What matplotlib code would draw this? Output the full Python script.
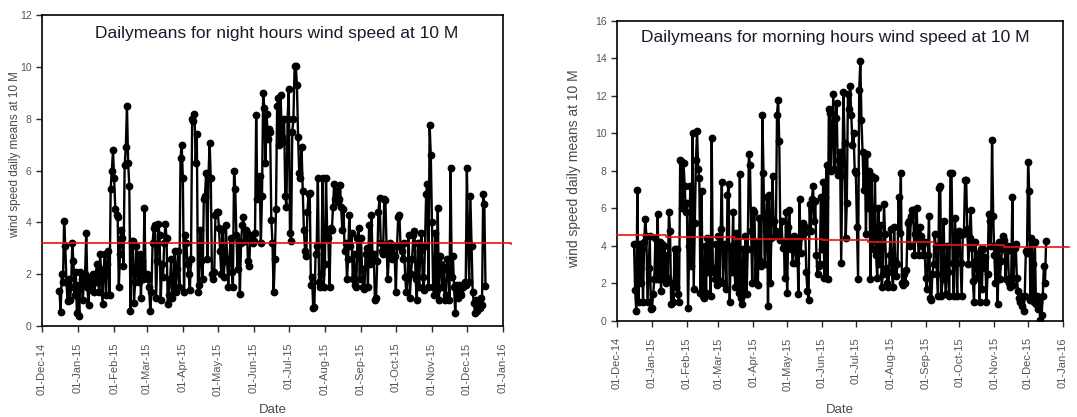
import numpy as np
import pandas as pd
import matplotlib
matplotlib.use('Agg')
import matplotlib.pyplot as plt
import matplotlib.dates as mdates

plt.rcParams['font.family'] = ['Liberation Sans', 'DejaVu Sans']

# daily means, night hours (16-Dec-2014 .. 17-Dec-2015), read by eye
night_dec14 = [1.35, 0.55, 2.0, 1.7, 4.05, 3.1, 1.7, 0.95, 1.8, 1.0, 1.5, 3.2, 2.5, 1.2, 2.1, 0.5]
night_jan = [1.6, 0.4, 2.1, 1.8, 1.0, 1.7, 2.0, 3.6, 1.5, 0.8, 1.9, 1.7, 1.4, 2.0, 1.3,
             1.7, 2.4, 2.1, 1.3, 2.8, 1.8, 0.85, 2.2, 2.8, 1.2, 2.4, 2.9, 1.2, 5.3, 6.0, 6.8]
night_feb = [5.7, 4.5, 4.3, 4.2, 1.5, 2.8, 3.7, 3.4, 2.3, 6.2, 6.9, 8.5, 6.3, 5.4, 0.6,
             3.3, 3.3, 0.9, 1.7, 3.1, 2.0, 1.7, 2.8, 1.1, 2.5, 1.8, 4.55, 1.9]
night_mar = [2.0, 1.8, 1.5, 0.6, 1.3, 3.2, 3.8, 3.9, 1.1, 2.5, 3.95, 3.5, 1.0, 2.4, 1.9,
             3.2, 3.95, 3.4, 0.85, 1.2, 1.8, 2.6, 1.1, 1.5, 2.9, 1.3, 2.2, 2.9, 1.5, 6.5, 7.0]
night_apr = [5.7, 1.3, 3.5, 3.2, 2.4, 2.0, 1.4, 2.6, 8.0, 7.9, 8.2, 6.3, 7.4, 1.3, 1.6,
             3.7, 2.5, 1.8, 4.9, 5.0, 5.9, 2.6, 5.8, 7.05, 5.7, 2.0, 1.8, 2.1, 4.3, 4.4]
night_may = [4.4, 3.8, 2.9, 2.0, 3.7, 1.9, 2.5, 3.9, 2.6, 1.5, 2.6, 3.4, 2.1, 1.5, 6.0,
             5.3, 3.5, 2.2, 3.3, 1.25, 3.2, 3.9, 4.2, 3.3, 3.7, 3.6, 2.5, 2.3, 3.5, 3.4, 3.2]
night_jun = [3.3, 3.6, 8.15, 4.9, 5.0, 5.8, 3.2, 5.0, 9.0, 8.4, 6.3, 8.2, 7.2, 7.6, 7.5,
             4.1, 3.2, 1.3, 2.6, 4.5, 8.5, 8.8, 7.0, 8.9, 7.3, 7.1, 8.0, 5.0, 4.6, 8.0]
night_jul = [9.15, 3.6, 3.3, 7.5, 8.0, 10.05, 10.05, 9.3, 7.3, 5.9, 5.7, 6.9, 5.2, 3.7, 2.9,
             2.7, 4.4, 5.1, 5.15, 1.6, 1.9, 0.7, 0.75, 2.8, 3.1, 5.7, 1.7, 1.5, 2.0, 5.7, 1.5]
night_aug = [2.4, 5.7, 3.6, 3.4, 1.5, 3.8, 3.7, 4.6, 5.5, 4.9, 5.2, 4.8, 4.9, 5.45, 4.6,
             3.7, 4.5, 2.9, 3.2, 1.8, 2.6, 4.3, 3.1, 3.6, 1.8, 2.8, 1.6, 1.5, 3.4, 3.8, 1.8]
night_sep = [3.4, 2.2, 1.5, 1.45, 2.8, 3.0, 1.5, 3.9, 2.4, 4.3, 2.6, 2.8, 1.0, 1.1, 2.5,
             4.4, 4.95, 3.2, 2.9, 2.8, 4.9, 4.85, 3.1, 1.8, 2.7, 3.2, 2.9, 2.6, 3.1, 2.7]
night_oct = [1.3, 3.1, 4.2, 4.3, 3.1, 2.9, 2.6, 3.2, 1.9, 1.3, 1.9, 3.5, 1.1, 2.0, 2.6,
             3.5, 3.65, 1.8, 1.0, 3.2, 1.5, 2.9, 3.6, 1.9, 1.4, 3.1, 5.1, 5.5, 1.5, 7.75, 6.6]
night_nov = [4.0, 1.5, 1.2, 3.6, 1.4, 4.55, 1.0, 2.7, 2.4, 1.5, 2.2, 1.0, 1.2, 2.6, 2.3,
             1.0, 6.1, 1.9, 2.7, 1.5, 0.5, 1.6, 1.1, 1.6, 1.3, 1.2, 1.6, 1.5, 1.7, 1.6]
night_dec15 = [6.1, 3.3, 1.7, 5.0, 3.1, 1.3, 0.9, 0.5, 1.0, 0.6, 0.9, 0.7, 1.1, 0.8, 5.1, 4.7, 1.55]

# daily means, morning hours
morn_dec14 = [4.1, 1.65, 0.5, 7.0, 1.0, 4.1, 2.0, 3.8, 1.0, 4.2, 5.4, 4.5, 1.0, 2.8, 4.5, 0.6]
morn_jan = [0.7, 1.4, 2.2, 4.4, 2.2, 5.7, 2.2, 4.2, 1.6, 4.1, 2.2, 4.0, 2.0, 3.5, 2.3,
            5.8, 4.8, 0.9, 2.0, 1.0, 3.8, 1.8, 3.8, 1.4, 1.0, 8.6, 8.5, 6.0, 8.4, 7.2, 5.8]
morn_feb = [6.3, 0.7, 4.0, 7.2, 2.9, 10.0, 1.7, 5.2, 8.6, 10.1, 8.1, 7.6, 1.5, 6.9, 1.3,
            1.2, 4.0, 1.5, 4.4, 2.6, 4.2, 1.3, 9.75, 2.6, 2.8, 2.2, 4.1, 1.9]
morn_mar = [4.5, 2.1, 4.9, 7.4, 2.0, 4.0, 4.1, 1.7, 6.7, 7.3, 1.0, 4.0, 2.6, 5.8, 3.0,
            1.8, 4.7, 2.5, 1.5, 7.85, 1.2, 0.9, 3.8, 1.4, 4.5, 1.4, 3.8, 8.9, 8.3, 4.8, 2.0]
morn_apr = [5.9, 5.8, 2.0, 4.2, 1.9, 5.5, 3.2, 2.9, 11.0, 7.9, 3.0, 4.8, 6.6, 0.8, 6.7,
            2.0, 4.4, 7.7, 5.3, 4.5, 4.8, 11.0, 11.8, 9.6, 4.3, 5.3, 3.9, 4.2, 2.3, 5.8]
morn_may = [1.5, 5.0, 5.9, 3.8, 4.2, 3.1, 4.5, 3.9, 3.1, 4.2, 1.4, 6.5, 3.6, 4.5, 5.2,
            4.7, 5.0, 2.6, 1.6, 1.1, 6.2, 4.8, 6.5, 7.2, 5.3, 6.4, 3.5, 2.5, 2.9, 3.0, 6.6]
morn_jun = [3.8, 7.4, 2.3, 6.6, 8.3, 2.2, 11.3, 11.1, 8.0, 10.0, 12.1, 8.1, 10.8, 11.6, 7.8,
            8.6, 9.0, 3.1, 7.8, 12.2, 9.5, 4.4, 6.3, 12.1, 11.3, 12.5, 11.0, 9.4, 10.0, 8.0]
morn_jul = [7.9, 5.0, 2.2, 12.3, 13.85, 10.7, 9.0, 7.0, 8.9, 4.6, 8.9, 6.0, 8.0, 2.2, 7.7,
            3.8, 4.3, 7.6, 3.5, 2.3, 6.0, 3.0, 5.1, 1.8, 2.5, 6.2, 4.6, 2.8, 2.0, 1.8, 3.5]
morn_aug = [4.9, 2.6, 1.8, 5.0, 3.2, 2.4, 3.0, 6.6, 4.7, 7.9, 2.0, 1.9, 2.5, 2.0, 2.7,
            5.2, 5.3, 4.0, 5.6, 5.9, 5.9, 3.5, 4.6, 6.0, 4.4, 3.5, 5.0, 4.5, 4.0, 3.5, 4.2]
morn_sep = [2.3, 1.7, 3.5, 5.6, 1.2, 1.1, 2.5, 3.0, 4.6, 4.0, 2.5, 1.3, 7.1, 7.2, 1.3,
            2.2, 5.3, 2.5, 1.4, 4.0, 2.6, 1.3, 7.9, 7.9, 3.1, 1.3, 5.5, 4.2, 1.3, 4.5]
morn_oct = [4.8, 3.1, 1.3, 4.6, 4.7, 7.5, 7.5, 4.9, 3.0, 4.4, 5.9, 3.9, 2.1, 1.0, 4.2,
            3.2, 2.3, 3.6, 1.0, 3.8, 1.7, 3.8, 2.8, 3.4, 1.0, 2.5, 5.7, 5.3, 4.0, 9.65, 5.6]
morn_nov = [3.5, 2.0, 4.0, 0.9, 4.2, 2.2, 3.2, 3.8, 4.5, 4.3, 2.2, 3.7, 4.0, 2.0, 1.8,
            2.3, 6.6, 1.9, 3.9, 4.1, 2.3, 1.6, 1.2, 1.0, 1.3, 0.8, 0.5, 1.3, 3.7, 3.6]
morn_dec15 = [8.45, 6.9, 1.1, 4.4, 3.0, 1.0, 4.2, 0.9, 1.3, 0.6, 1.0, 0.05, 0.3, 1.3, 2.9, 2.0, 4.25]

# red reference lines
night_ref_dates = ['2014-12-01', '2016-01-08']
night_ref_vals = [3.2, 3.15]
morn_ref_dates = ['2014-12-01', '2015-01-13', '2015-03-15', '2015-06-01', '2015-07-12',
                  '2015-09-08', '2015-11-10', '2016-01-06']
morn_ref_vals = [4.55, 4.45, 4.37, 4.3, 4.18, 4.04, 3.95, 3.95]

start_day = '2014-12-16'
tick_dates = pd.date_range('2014-12-01', '2016-01-01', freq='MS')

night = np.concatenate([night_dec14, night_jan, night_feb, night_mar, night_apr, night_may,
                        night_jun, night_jul, night_aug, night_sep, night_oct, night_nov, night_dec15])
morn = np.concatenate([morn_dec14, morn_jan, morn_feb, morn_mar, morn_apr, morn_may,
                       morn_jun, morn_jul, morn_aug, morn_sep, morn_oct, morn_nov, morn_dec15])

fig = plt.figure(figsize=(10.77, 4.17), dpi=100)
ax1 = fig.add_axes([0.039, 0.218, 0.428, 0.746])
ax2 = fig.add_axes([0.573, 0.231, 0.414, 0.719])

txt = '#2b2b2b'
panels = [
    (ax1, night, night_ref_dates, night_ref_vals, 12,
     'Dailymeans for night hours wind speed at 10 M', (0.51, 0.94), (-0.045, 0.55), 8.4, -0.27),
    (ax2, morn, morn_ref_dates, morn_ref_vals, 16,
     'Dailymeans for morning hours wind speed at 10 M', (0.49, 0.945), (-0.082, 0.506), 10, -0.298),
]

for ax, vals, rd, rv, ymax, title, tpos, lpos, lsize, xly in panels:
    d = pd.date_range(start_day, periods=len(vals), freq='D')
    ax.plot(d, vals, color='black', lw=1.7, marker='o', ms=4.6, mec='black', mfc='black')
    ax.step(pd.to_datetime(rd), rv, where='post', color='#ee1111', lw=1.2, clip_on=False, zorder=5)
    ax.set_xlim(tick_dates[0], tick_dates[-1])
    ax.set_ylim(0, ymax)
    ax.set_yticks(np.arange(0, ymax + 1, 2))
    ax.set_xticks(tick_dates)
    ax.xaxis.set_major_formatter(mdates.DateFormatter('%d-%b-%y'))
    ax.tick_params(axis='x', rotation=90, labelsize=8, colors=txt, length=4, width=1, pad=8)
    ax.tick_params(axis='y', labelsize=7.5, colors=txt, length=4, width=1)
    for lab in ax.get_xticklabels():
        lab.set_color('#555555')
    for lab in ax.get_yticklabels():
        lab.set_color('#555555')
    for sp in ax.spines.values():
        sp.set_linewidth(1.2)
    ax.text(tpos[0], tpos[1], title, transform=ax.transAxes, ha='center', va='center',
            fontsize=12.5, color='#1a1a2a')
    ax.set_ylabel('wind speed daily means at 10 M', fontsize=lsize, color='#4a4a4a')
    ax.yaxis.set_label_coords(*lpos)
    ax.set_xlabel('Date', fontsize=9.5, color='#4a4a4a', va='center')
    ax.xaxis.set_label_coords(0.5, xly)

fig.savefig('out.png', dpi=100)
